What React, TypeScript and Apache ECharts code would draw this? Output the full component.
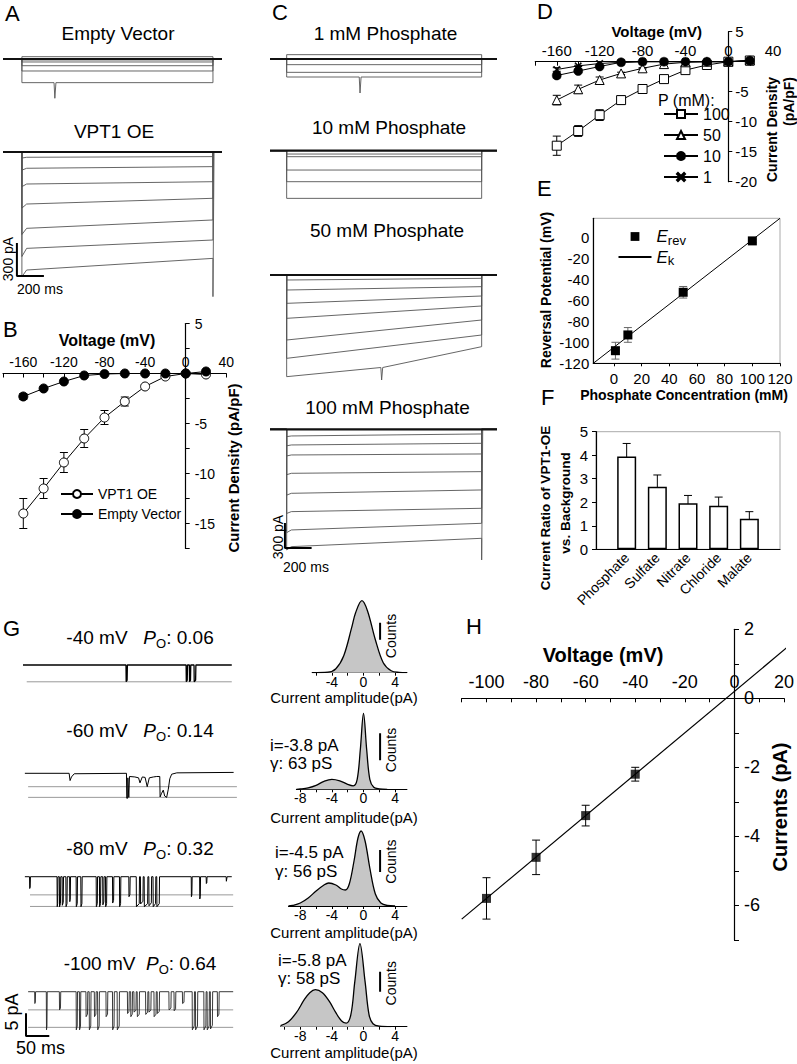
import React, { useEffect, useRef } from "react";
import * as echarts from "echarts";

const FONT = '"Liberation Sans", Arial, Helvetica, sans-serif';

// ---------------- A : whole-vacuole currents (ms, pA) ----------------
const aPulse = [0, 1415];
const aWindow = [-140, 1482];
const aEvLevels = [21, -9, -27, -61, -109, -215];
const aEvSpike = [244, -215, -357];
const aOeStart = [-48, -148, -291, -473, -694, -876, -1073];
const aOeEnd = [-42, -133, -270, -421, -618, -800, -967];
const aOePeak = [-55, -165, -315, -510, -750, -950, -1133];
const aOeTail = [-42, -133, -270, -421, -618, -800, -1315];
const aScaleBar = [[-37, -827], [-37, -1127], [163, -1127]];

// ---------------- B : I-V ----------------
const ivVoltages = [-160, -140, -120, -100, -80, -60, -40, -20, 0, 20];
const bOE = [-14.0, -11.5, -8.9, -6.5, -4.4, -2.8, -1.3, -0.3, 0, -0.1];
const bOEErr = [1.5, 1.0, 1.0, 0.9, 0.7, 0.45, 0.2, 0.1, 0, 0];
const bEV = [-2.3, -1.5, -0.8, -0.2, -0.05, 0, 0, 0, 0, 0.2];
const bEVErr = [0.3, 0.15, 0.1, 0.05, 0, 0, 0, 0, 0, 0];

// ---------------- C : phosphate concentrations ----------------
const cPulse = [0, 1462];
const cWindow = [-125, 1577];
const c1Levels = [52, -68, -160, -216];
const c1Spike = [550, -216, -408];
const c2Levels = [-40, -72, -232, -372, -572];
const c3Start = [-60, -180, -340, -520, -780, -1000, -1220];
const c3End = [-40, -140, -252, -372, -540, -720, -860];
const c3Spike = [712, -1110, -1260];
const c4Start = [-80, -188, -308, -528, -768, -988, -1208, -1408];
const c4End = [-56, -168, -296, -508, -728, -948, -1128, -1308];
const c4Peak = [-88, -198, -320, -545, -790, -1010, -1240, -1448];
const c4Tail = [-56, -168, -296, -508, -728, -948, -1128, -1568];
const cScaleBar = [[-13, -1124], [-13, -1424], [187, -1424]];

// ---------------- D ----------------
const d100 = [-14.0, -11.55, -8.9, -6.4, -4.55, -2.9, -1.4, -0.55, 0, 0.2];
const d100Err = [1.6, 0.9, 0.9, 0.7, 0.5, 0.3, 0.15, 0.1, 0, 0];
const d50 = [-6.4, -4.6, -3.05, -1.95, -1.1, -0.4, -0.1, 0, 0, 0.2];
const d50Err = [0.8, 0.7, 0.5, 0.2, 0.1, 0, 0, 0, 0, 0];
const d10 = [-2.3, -1.55, -0.8, -0.1, 0, 0, 0, 0, 0, 0.2];
const d10Err = [0.4, 0.2, 0.15, 0, 0, 0, 0, 0, 0, 0];
const d1 = [-1.3, -0.7, -0.3, -0.1, 0, 0, 0, 0, 0, 0.1];
const d1Err = [0.3, 0.1, 0, 0, 0, 0, 0, 0, 0, 0];

// ---------------- E ----------------
const eConc = [1, 10, 50, 100];
const eRev = [-108, -93, -52.4, -3.5];
const eErr = [8, 7, 5.5, 1.5];
const eKLine = [[-15, -120], [120, 18]];

// ---------------- F ----------------
const fIons = ["Phosphate", "Sulfate", "Nitrate", "Chloride", "Malate"];
const fRatio = [3.95, 2.66, 1.96, 1.85, 1.3];
const fErr = [0.55, 0.5, 0.33, 0.37, 0.3];

// ---------------- G : single channels (ms, pA) ----------------
const gWindow = [0, 459];
const g40Span = [0, 448];
const g40Events = [[221, 224, -3.7], [350, 353, -3.7], [357, 360, -3.7], [367, 371, -3.7]];
const g40Levels = [-3.7];
const g60Trace = [[4, 0], [99, 0], [101, -1.6], [104, -0.8], [110, -0.1], [222, 0], [222.6, -5.5], [224.5, -5.5], [225, -1], [227, -5.3], [228.5, -0.7], [240, -0.8], [248, -1.0], [251, -2.1], [256, -0.8], [262, -0.9], [266.5, -2.95], [271, -1.0], [280, -0.8], [287, -0.7], [293.5, -0.7], [294.2, -5.2], [297, -4.5], [301, -3.7], [304, -5.0], [308.3, -5.3], [311.8, -3.5], [315, -1.2], [319, -0.2], [330, 0.1], [452, 0.2]];
const g60Levels = [-2.95, -5.3];
const g80Span = [4, 448];
const g80Events = [[14, 16, -2.6], [73, 75, -6.6], [78, 81, -6.6], [84, 87, -6.3], [92, 95, -6.6], [100, 102, -5.5], [114, 117, -6.6], [124, 127, -6.6], [157, 160, -6.6], [164, 167, -6.6], [171, 174, -6.2], [177, 180, -6.6], [192, 195, -5.8], [207, 210, -6.6], [227, 230, -4.4], [243, 250, -6.6], [252, 258, -6.0], [260, 268, -6.6], [270, 276, -6.4], [279, 285, -6.6], [287, 293, -6.6], [361, 363, -4.4], [379, 381, -4.9], [393, 395, -1.5], [436, 438, -1.0]];
const g80Levels = [-4.0, -6.55];
const g100Span = [11, 451];
const g100Events = [[25, 27, -2.6], [50, 52, -8.4], [78, 81, -4.0], [114, 117, -8.4], [121, 124, -8.4], [135, 139, -5.5], [142, 146, -8.4], [153, 157, -5.5], [160, 164, -8.4], [178, 182, -5.5], [192, 196, -8.4], [202, 207, -8.4], [224, 228, -4.8], [231, 235, -5.5], [238, 243, -4.5], [245, 250, -5.5], [263, 268, -5.0], [270, 275, -4.5], [281, 286, -5.5], [288, 293, -4.8], [313, 318, -4.0], [324, 328, -4.2], [342, 346, -2.6], [363, 368, -8.4], [370, 375, -8.4], [388, 393, -8.4], [395, 400, -8.4], [402, 407, -8.2], [417, 421, -5.5]];
const g100Levels = [-4.0, -7.85];
const gScaleBar = [[6.4, -4.75], [6.4, -9.75], [56.4, -9.75]];

const hist40 = [[-6.5, 0], [-4.5, 0.5], [-3.5, 4], [-2.5, 17], [-1.5, 45], [-1, 60], [-0.2, 72], [0.5, 62], [1.5, 33], [2.5, 10], [3.5, 2], [4.5, 0.3], [5.5, 0]];
const hist60 = [[-8.5, 0], [-8, 0.3], [-7, 1.5], [-6, 4], [-5, 8], [-4, 10], [-3, 8.5], [-2, 5], [-1.3, 3.5], [-0.8, 10], [-0.4, 40], [0, 76], [0.4, 40], [0.8, 10], [1.3, 2], [2, 0.5], [3, 0]];
const hist80 = [[-9.5, 0], [-9, 0.5], [-8, 3], [-7, 8], [-6, 15], [-5, 21], [-4.4, 23], [-3.5, 21], [-2.8, 17], [-2.3, 16], [-1.8, 22], [-1.2, 45], [-0.7, 68], [-0.3, 75], [0.2, 65], [0.8, 38], [1.5, 12], [2.2, 3], [3, 0.5], [4, 0]];
const hist100 = [[-10.5, 1], [-9.5, 5], [-8.5, 14], [-7.5, 27], [-6.8, 34], [-6.1, 37], [-5.2, 34], [-4.3, 25], [-3.5, 14], [-2.8, 6], [-2.2, 3.5], [-1.6, 12], [-1.1, 45], [-0.45, 83], [0.2, 45], [0.7, 12], [1.2, 3], [2, 0.5], [3.5, 0]];
const countsBars = [[[2.1, 33], [2.1, 50]], [[2.1, 29], [2.1, 56]], [[2.1, 34], [2.1, 56]], [[2.1, 35], [2.1, 55]]];

// ---------------- H ----------------
const hVolt = [-100, -80, -60, -40];
const hCur = [-5.8, -4.61, -3.4, -2.2];
const hErr = [0.6, 0.5, 0.3, 0.2];
const hFit = [[-110, -6.4], [24, 1.64]];

// ------------------------------------------------------------
function range(a: number, b: number, s: number) {
  const out: number[] = [];
  for (let v = a; v <= b + 1e-9; v += s) out.push(Math.round(v * 100) / 100);
  return out;
}

function pulseTrace(win: number[], pulse: number[], start: number, end: number, peak?: number, tail?: number, spike?: number[]) {
  const pts: number[][] = [[win[0], 0], [pulse[0], 0]];
  if (peak !== undefined && peak !== start) pts.push([pulse[0], peak], [pulse[0] + 35, start]);
  else pts.push([pulse[0], start]);
  if (spike) pts.push([spike[0] - 6, spike[1]], [spike[0], spike[2]], [spike[0] + 8, spike[1]]);
  pts.push([pulse[1], end]);
  if (tail !== undefined && tail !== end) pts.push([pulse[1], tail], [pulse[1] + 8, 0]);
  else pts.push([pulse[1], 0]);
  pts.push([win[1], 0]);
  return pts;
}

function eventTrace(span: number[], events: number[][]) {
  const pts: number[][] = [[span[0], 0]];
  events.forEach((e) => {
    pts.push([e[0], 0], [e[0] + 0.4, e[2]], [e[1] - 0.6, e[2] * 0.9], [e[1], 0]);
  });
  pts.push([span[1], 0]);
  return pts;
}

function buildOption() {
  const grids: any[] = [];
  const xAxes: any[] = [];
  const yAxes: any[] = [];
  const series: any[] = [];
  const graphics: any[] = [];

  const axisBase = (fs: number) => ({
    type: "value",
    splitLine: { show: false },
    axisLine: { show: true, onZero: false, lineStyle: { color: "#000", width: 1.2 } },
    axisTick: { show: true, lineStyle: { color: "#000", width: 1 } },
    axisLabel: { color: "#000", fontFamily: FONT, fontSize: fs },
  });
  const aLine = { show: true, onZero: false, lineStyle: { color: "#000", width: 1.2 } };

  function addGrid(rect: number[], xa: any, ya: any, gridExtra: any = {}) {
    const i = grids.length;
    grids.push({ left: rect[0], top: rect[1], width: rect[2], height: rect[3], containLabel: false, ...gridExtra });
    xAxes.push({ gridIndex: i, ...xa });
    yAxes.push({ gridIndex: i, ...ya });
    return i;
  }
  const hidden = (min: number, max: number) => ({ type: "value", show: false, min, max, splitLine: { show: false } });

  function line(gi: number, data: any[], color = "#333", width = 1, extra: any = {}) {
    series.push({
      type: "line", xAxisIndex: gi, yAxisIndex: gi, data, symbol: "none", silent: true,
      lineStyle: { color, width }, z: 3, ...extra,
    });
  }

  function errBars(gi: number, xs: number[], ys: number[], errs: number[], color = "#000", cap = 4) {
    const data = xs.map((x, i) => [x, ys[i] - errs[i], ys[i] + errs[i]]).filter((_, i) => errs[i] > 0);
    series.push({
      type: "custom", xAxisIndex: gi, yAxisIndex: gi, data, z: 2, silent: true,
      encode: { x: 0, y: [1, 2] },
      renderItem: (_p: any, api: any) => {
        const x = api.value(0);
        const a = api.coord([x, api.value(2)]);
        const b = api.coord([x, api.value(1)]);
        const st = { stroke: color, lineWidth: 1 };
        return {
          type: "group",
          children: [
            { type: "line", shape: { x1: a[0], y1: a[1], x2: b[0], y2: b[1] }, style: st },
            { type: "line", shape: { x1: a[0] - cap, y1: a[1], x2: a[0] + cap, y2: a[1] }, style: st },
            { type: "line", shape: { x1: b[0] - cap, y1: b[1], x2: b[0] + cap, y2: b[1] }, style: st },
          ],
        };
      },
    });
  }

  function txt(text: string, x: number, y: number, o: any = {}) {
    graphics.push({
      type: "text", x, y, rotation: o.rot || 0, z: 100, silent: true,
      style: {
        text, fill: "#000", fontFamily: FONT, fontSize: o.size || 14,
        fontWeight: o.bold ? "bold" : "normal", fontStyle: o.italic ? "italic" : "normal",
        textAlign: o.align || "center", textVerticalAlign: "middle",
        lineHeight: o.lh, rich: o.rich,
      },
    });
  }

  // ===== A =====
  const gAev = addGrid([3, 48, 219, 52.8], hidden(aWindow[0], aWindow[1]), hidden(-380, 100));
  aEvLevels.forEach((L, i) => {
    line(gAev, pulseTrace(aWindow, aPulse, L, L, undefined, undefined, i === aEvLevels.length - 1 ? aEvSpike : undefined), "#555", 0.9);
  });
  line(gAev, [[aWindow[0], 0], [aWindow[1], 0]], "#111", 2.2);

  const gAoe = addGrid([3, 141, 219, 159.5], hidden(aWindow[0], aWindow[1]), hidden(-1350, 100));
  aOeStart.forEach((s, i) => line(gAoe, pulseTrace(aWindow, aPulse, s, aOeEnd[i], aOePeak[i], aOeTail[i]), "#555", 0.9));
  line(gAoe, [[aWindow[0], 0], [aWindow[1], 0]], "#111", 2.2);
  line(gAoe, aScaleBar, "#000", 2);

  // ===== B =====  (axes crossing at the origin: offsets move them onto zero)
  const gB = addGrid(
    [3, 323.5, 223.3, 225],
    { ...axisBase(14), min: -180, max: 40, position: "top", offset: -50, axisLine: aLine,
      axisTick: { show: true, inside: true, length: 4, customValues: range(-180, 40, 20), lineStyle: { color: "#000" } },
      axisLabel: { color: "#000", fontFamily: FONT, fontSize: 14, margin: 5, customValues: [-160, -120, -80, -40, 0, 40] } },
    { ...axisBase(14), min: -17.5, max: 5, position: "right", offset: -40.6, axisLine: aLine,
      axisTick: { show: true, length: 4, customValues: range(-17.5, 5, 2.5), lineStyle: { color: "#000" } },
      axisLabel: { color: "#000", fontFamily: FONT, fontSize: 14, margin: 9, customValues: [-15, -10, -5, 5] } }
  );
  errBars(gB, ivVoltages, bOE, bOEErr);
  errBars(gB, ivVoltages, bEV, bEVErr);
  series.push({
    type: "line", name: "VPT1 OE", xAxisIndex: gB, yAxisIndex: gB, data: ivVoltages.map((v, i) => [v, bOE[i]]),
    symbol: "circle", symbolSize: 9, showAllSymbol: true, z: 4,
    itemStyle: { color: "#fff", borderColor: "#000", borderWidth: 1 }, lineStyle: { color: "#000", width: 1 },
  });
  series.push({
    type: "line", name: "Empty Vector", xAxisIndex: gB, yAxisIndex: gB, data: ivVoltages.map((v, i) => [v, bEV[i]]),
    symbol: "circle", symbolSize: 9, showAllSymbol: true, z: 5,
    itemStyle: { color: "#000", borderColor: "#000", borderWidth: 1 }, lineStyle: { color: "#000", width: 1 },
  });

  // ===== C =====
  const cGrid = (top: number, h: number, min: number, max: number) =>
    addGrid([270, top, 227, h], hidden(cWindow[0], cWindow[1]), hidden(min, max));
  const gC1 = cGrid(46.5, 50, -450, 150);
  c1Levels.forEach((L, i) => line(gC1, pulseTrace(cWindow, cPulse, L, L, undefined, undefined, i === c1Levels.length - 1 ? c1Spike : undefined), "#555", 0.9));
  line(gC1, [[cWindow[0], 0], [cWindow[1], 0]], "#111", 2.2);
  const gC2 = cGrid(138.2, 70.83, -700, 150);
  c2Levels.forEach((L) => line(gC2, pulseTrace(cWindow, cPulse, L, L), "#555", 0.9));
  line(gC2, [[cWindow[0], 0], [cWindow[1], 0]], "#111", 2.2);
  const gC3 = cGrid(262.5, 125, -1350, 150);
  c3Start.forEach((s, i) => line(gC3, pulseTrace(cWindow, cPulse, s, c3End[i], undefined, undefined, i === c3Start.length - 1 ? c3Spike : undefined), "#555", 0.9));
  line(gC3, [[cWindow[0], 0], [cWindow[1], 0]], "#111", 2.2);
  const gC4 = cGrid(416.8, 150, -1650, 150);
  c4Start.forEach((s, i) => line(gC4, pulseTrace(cWindow, cPulse, s, c4End[i], c4Peak[i], c4Tail[i]), "#555", 0.9));
  line(gC4, [[cWindow[0], 0], [cWindow[1], 0]], "#111", 2.2);
  line(gC4, cScaleBar, "#000", 2);

  // ===== D =====
  const gD = addGrid(
    [535.3, 31.7, 214.5, 150],
    { ...axisBase(15), min: -180, max: 20, position: "top", offset: -30, axisLine: aLine,
      axisTick: { show: true, inside: true, length: 4, customValues: range(-180, 20, 20), lineStyle: { color: "#000" } },
      axisLabel: { color: "#000", fontFamily: FONT, fontSize: 15, margin: 4, customValues: [-160, -120, -80, -40, 0] } },
    { ...axisBase(15), min: -20, max: 5, position: "right", offset: -21.5, axisLine: aLine,
      axisTick: { show: true, length: 4, customValues: range(-20, 5, 5), lineStyle: { color: "#000" } },
      axisLabel: { color: "#000", fontFamily: FONT, fontSize: 15, margin: 7, customValues: [-20, -15, -10, -5, 5] } }
  );
  errBars(gD, ivVoltages, d100, d100Err);
  errBars(gD, ivVoltages, d50, d50Err);
  errBars(gD, ivVoltages, d10, d10Err);
  errBars(gD, ivVoltages, d1, d1Err);
  const crossPath = "path://M0,1.2L1.2,0L5,3.8L8.8,0L10,1.2L6.2,5L10,8.8L8.8,10L5,6.2L1.2,10L0,8.8L3.8,5Z";
  const dSeries = [
    { name: "100", data: d100, symbol: "rect", size: 9, fill: "#fff" },
    { name: "50", data: d50, symbol: "triangle", size: 9, fill: "#fff" },
    { name: "10", data: d10, symbol: "circle", size: 9, fill: "#000" },
    { name: "1", data: d1, symbol: crossPath, size: 7, fill: "#000" },
  ];
  dSeries.forEach((s, k) =>
    series.push({
      type: "line", name: s.name, xAxisIndex: gD, yAxisIndex: gD, data: ivVoltages.map((v, i) => [v, s.data[i]]),
      symbol: s.symbol, symbolSize: s.size, showAllSymbol: true, z: 4 + k,
      itemStyle: { color: s.fill, borderColor: "#000", borderWidth: s.fill === "#fff" ? 1 : 0.5 },
      lineStyle: { color: "#000", width: 1 },
    })
  );

  // ===== E =====
  const gE = addGrid(
    [593.3, 218.3, 186.7, 145],
    { ...axisBase(15), min: -15, max: 120, axisLine: aLine,
      axisTick: { show: true, length: 3, customValues: range(0, 120, 20), lineStyle: { color: "#000" } },
      axisLabel: { color: "#000", fontFamily: FONT, fontSize: 15, margin: 8, customValues: range(0, 120, 20) } },
    { ...axisBase(15), min: -120, max: 18, axisLine: aLine,
      axisTick: { show: false },
      axisLabel: { color: "#000", fontFamily: FONT, fontSize: 15, margin: 4, customValues: range(-120, 0, 20) } },
    { show: true, borderColor: "#aaa", borderWidth: 1, backgroundColor: "transparent" }
  );
  series.push({
    type: "line", name: "Ek", xAxisIndex: gE, yAxisIndex: gE, data: eKLine, symbol: "none", z: 3,
    itemStyle: { color: "#000", opacity: 0 }, lineStyle: { color: "#000", width: 1 },
  });
  errBars(gE, eConc, eRev, eErr, "#666", 4);
  series.push({
    type: "line", name: "Erev", xAxisIndex: gE, yAxisIndex: gE, data: eConc.map((c, i) => [c, eRev[i]]),
    symbol: "rect", symbolSize: 9, showAllSymbol: true, z: 5,
    itemStyle: { color: "#000" }, lineStyle: { color: "#000", width: 0, opacity: 0 },
  });

  // ===== F =====
  const gF = addGrid(
    [596, 431.7, 184, 117.6],
    { ...axisBase(14), min: 0, max: 6, axisLine: aLine,
      axisTick: { show: false },
      axisLabel: { color: "#000", fontFamily: FONT, fontSize: 14, margin: 6, rotate: 45, customValues: [1, 2, 3, 4, 5],
        formatter: (v: number) => fIons[Math.round(v) - 1] || "" } },
    { ...axisBase(15), min: 0, max: 5, interval: 1, axisLine: aLine,
      axisTick: { show: true, length: 4, lineStyle: { color: "#000" } },
      axisLabel: { color: "#000", fontFamily: FONT, fontSize: 15, margin: 8 } },
    { show: true, borderColor: "#aaa", borderWidth: 1, backgroundColor: "transparent" }
  );
  series.push({
    type: "bar", xAxisIndex: gF, yAxisIndex: gF, data: fRatio.map((r, i) => [i + 1, r]), barWidth: 19, z: 2,
    itemStyle: { color: "#fff", borderColor: "#000", borderWidth: 1.5 },
  });
  errBars(gF, fRatio.map((_, i) => i + 1), fRatio, fErr, "#000", 4);

  // ===== G traces =====
  const gTrace = (top: number, h: number, min: number, max: number) =>
    addGrid([23, top, 213.9, h], hidden(gWindow[0], gWindow[1]), hidden(min, max));
  const gG40 = gTrace(658.2, 29.5, -5, 1.5);
  g40Levels.forEach((L) => line(gG40, [[8, L], [g40Span[1], L]], "#999", 1));
  line(gG40, eventTrace(g40Span, g40Events), "#000", 1.3);
  const gG60 = gTrace(766.5, 34.05, -6, 1.5);
  g60Levels.forEach((L) => line(gG60, [[11, L], [gWindow[1], L]], "#999", 1));
  line(gG60, g60Trace, "#000", 1);
  const gG80 = gTrace(869.9, 40.86, -7.5, 1.5);
  g80Levels.forEach((L) => line(gG80, [[15, L], [451, L]], "#999", 1));
  line(gG80, eventTrace(g80Span, g80Events), "#000", 1);
  const gG100 = gTrace(984.9, 54.48, -10.5, 1.5);
  g100Levels.forEach((L) => line(gG100, [[11, L], [451, L]], "#999", 1));
  line(gG100, eventTrace(g100Span, g100Events), "#222", 0.9);
  line(gG100, gScaleBar, "#000", 2);

  // ===== G histograms =====
  const histDefs = [
    { data: hist40, min: -6.5, left: 312.15, bottom: 672.7 },
    { data: hist60, min: -8.5, left: 296.35, bottom: 789.3 },
    { data: hist80, min: -9.5, left: 288.45, bottom: 906 },
    { data: hist100, min: -10.5, left: 280.55, bottom: 1026.7 },
  ];
  histDefs.forEach((h, k) => {
    const max = 5.5;
    const w = (max - h.min) * 7.9;
    const gi = addGrid(
      [h.left, h.bottom - 90, w, 90],
      { ...axisBase(14), min: h.min, max,
        axisLine: { show: true, onZero: false, lineStyle: { color: "#000", width: 1 } },
        axisTick: { show: true, length: 3, customValues: range(-10, 4, 2).filter((v) => v >= h.min), lineStyle: { color: "#000" } },
        axisLabel: { color: "#000", fontFamily: FONT, fontSize: 14, margin: 2, customValues: [-8, -4, 0, 4].filter((v) => v >= h.min) } },
      hidden(0, 90)
    );
    series.push({
      type: "line", xAxisIndex: gi, yAxisIndex: gi, data: h.data, symbol: "none", smooth: 0.35, silent: true, z: 3,
      lineStyle: { color: "#000", width: 1.3 }, areaStyle: { color: "#c6c6c6", opacity: 1 },
    });
    line(gi, countsBars[k], "#000", 2);
  });

  // ===== H =====
  const gH = addGrid(
    [461.7, 629.3, 325, 310.5],
    { ...axisBase(18), min: -110, max: 20, position: "top", offset: -69, axisLine: aLine,
      axisTick: { show: true, inside: true, length: 4, customValues: range(-110, 20, 10), lineStyle: { color: "#000" } },
      axisLabel: { color: "#000", fontFamily: FONT, fontSize: 18, margin: 7, customValues: [-100, -80, -60, -40, -20, 0, 20] } },
    { ...axisBase(18), min: -7, max: 2, position: "right", offset: -50, axisLine: aLine,
      axisTick: { show: true, length: 5, customValues: range(-7, 2, 1), lineStyle: { color: "#000" } },
      axisLabel: { color: "#000", fontFamily: FONT, fontSize: 18, margin: 10, customValues: [-6, -4, -2, 0, 2] } }
  );
  line(gH, hFit, "#000", 1.2, { clip: false });
  errBars(gH, hVolt, hCur, hErr, "#000", 4);
  series.push({
    type: "scatter", xAxisIndex: gH, yAxisIndex: gH, data: hVolt.map((v, i) => [v, hCur[i]]),
    symbol: "rect", symbolSize: 9, z: 5, itemStyle: { color: "#000" },
  });

  // ===== texts =====
  [["A", 5, 13], ["B", 3, 329], ["C", 272, 12], ["D", 537, 11], ["E", 537, 188], ["F", 541, 397], ["G", 3, 628], ["H", 466, 626]].forEach(
    (l: any) => txt(l[0], l[1], l[2], { size: 22, align: "left" })
  );
  txt("Empty Vector", 118, 33, { size: 19 });
  txt("VPT1 OE", 114, 131.7, { size: 19 });
  txt("1 mM Phosphate", 385.5, 33.3, { size: 19 });
  txt("10 mM Phosphate", 389, 127, { size: 19 });
  txt("50 mM Phosphate", 387, 230, { size: 19 });
  txt("100 mM Phosphate", 387.5, 407, { size: 19 });
  txt("300 pA", 7.5, 259, { size: 14, rot: Math.PI / 2 });
  txt("200 ms", 17, 288.5, { size: 14, align: "left" });
  txt("300 pA", 277.5, 537, { size: 14, rot: Math.PI / 2 });
  txt("200 ms", 283, 566.7, { size: 14, align: "left" });

  txt("Voltage (mV)", 107, 340, { size: 16, bold: true });
  txt("Current Density (pA/pF)", 233, 468, { size: 15, bold: true, rot: Math.PI / 2 });

  txt("Voltage (mV)", 656.7, 31.7, { size: 15, bold: true });
  txt("40", 773, 50, { size: 15 });
  txt("Current Density", 772, 77, { size: 14, bold: true, rot: Math.PI / 2, align: "right" });
  txt("(pA/pF)", 788.5, 77, { size: 14, bold: true, rot: Math.PI / 2, align: "right" });
  txt("P (mM):", 658, 100, { size: 16, align: "left" });

  txt("Reversal Potential (mV)", 546, 290, { size: 14, bold: true, rot: Math.PI / 2 });
  txt("Phosphate Concentration (mM)", 684, 395, { size: 14, bold: true });

  txt("Current Ratio of VPT1-OE", 545, 508, { size: 13.5, bold: true, rot: Math.PI / 2 });
  txt("vs. Background", 565, 503, { size: 13.5, bold: true, rot: Math.PI / 2 });

  const subRich = {
    i: { fontStyle: "italic", fontSize: 19, lineHeight: 26, fontFamily: FONT, color: "#000" },
    s: { fontSize: 13, lineHeight: 13, verticalAlign: "bottom", fontFamily: FONT, color: "#000" },
  };
  txt("-40 mV   {i|P}{s|O}: 0.06", 140, 637, { size: 19, lh: 26, rich: subRich });
  txt("-60 mV   {i|P}{s|O}: 0.14", 140, 730, { size: 19, lh: 26, rich: subRich });
  txt("-80 mV   {i|P}{s|O}: 0.32", 140, 848, { size: 19, lh: 26, rich: subRich });
  txt("-100 mV  {i|P}{s|O}: 0.64", 140, 963, { size: 19, lh: 26, rich: subRich });
  txt("5 pA", 12, 1012, { size: 18, rot: Math.PI / 2 });
  txt("50 ms", 16, 1048, { size: 18, align: "left" });

  txt("i=-3.8 pA", 270, 745, { size: 17, align: "left" });
  txt("γ: 63 pS", 270, 763.3, { size: 17, align: "left" });
  txt("i=-4.5 pA", 275, 852.7, { size: 17, align: "left" });
  txt("γ: 56 pS", 275, 871.7, { size: 17, align: "left" });
  txt("i=-5.8 pA", 278, 960, { size: 17, align: "left" });
  txt("γ: 58 pS", 278, 978.3, { size: 17, align: "left" });
  [636, 750, 861.7, 983.3].forEach((y) => txt("Counts", 391, y, { size: 14, rot: Math.PI / 2 }));
  [697.5, 817.5, 932.5, 1052.5].forEach((y) => txt("Current amplitude(pA)", 344, y, { size: 15 }));

  txt("Voltage (mV)", 603, 655, { size: 20, bold: true });
  txt("Currents (pA)", 780, 807, { size: 20, bold: true, rot: Math.PI / 2 });

  return {
    animation: false,
    backgroundColor: "#fff",
    textStyle: { fontFamily: FONT },
    grid: grids,
    xAxis: xAxes,
    yAxis: yAxes,
    series,
    graphic: graphics,
    legend: [
      {
        data: ["VPT1 OE", "Empty Vector"], left: 55, top: 482, orient: "vertical", itemWidth: 32, itemHeight: 10,
        itemGap: 6, selectedMode: false, textStyle: { fontSize: 14, fontFamily: FONT, color: "#000" },
      },
      {
        data: ["100", "50", "10", "1"], left: 658, top: 101, orient: "vertical", itemWidth: 34, itemHeight: 10,
        itemGap: 5, selectedMode: false, textStyle: { fontSize: 16, fontFamily: FONT, color: "#000" },
      },
      {
        data: ["Erev", "Ek"], left: 612.5, top: 223, orient: "vertical", itemWidth: 33, itemHeight: 11,
        itemGap: 2, selectedMode: false,
        formatter: (n: string) => (n === "Erev" ? "{i|E}{s|rev}" : "{i|E}{s|k}"),
        textStyle: {
          fontSize: 17, fontFamily: FONT, color: "#000",
          rich: {
            i: { fontStyle: "italic", fontSize: 17, lineHeight: 20, fontFamily: FONT, color: "#000" },
            s: { fontSize: 13, lineHeight: 12, verticalAlign: "bottom", fontFamily: FONT, color: "#000" },
          },
        },
      },
    ],
  };
}

export default function App() {
  const ref = useRef<HTMLDivElement>(null);
  useEffect(() => {
    if (!ref.current) return;
    const chart = echarts.init(ref.current, null, { renderer: "svg", width: 797, height: 1064 });
    chart.setOption(buildOption() as any);
    return () => chart.dispose();
  }, []);
  return (
    <div
      ref={ref}
      style={{ position: "absolute", left: 0, top: 0, width: 797, height: 1064, background: "#fff" }}
    />
  );
}
